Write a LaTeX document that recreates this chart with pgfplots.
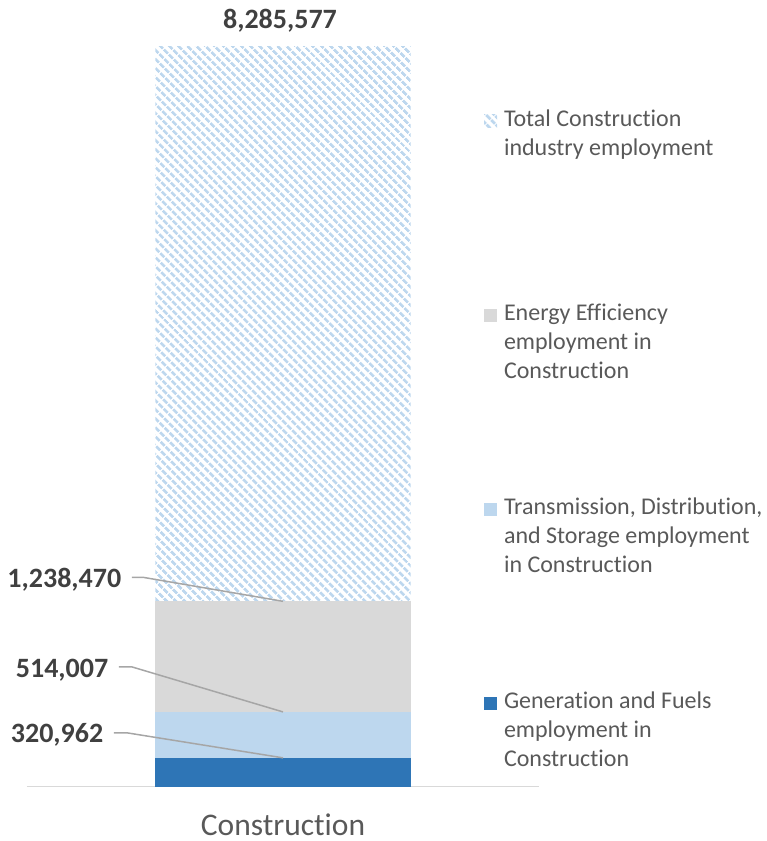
\documentclass[border=0pt]{standalone}
\usepackage{pgfplots}
\pgfplotsset{compat=1.18}
\usepackage{fontspec}
\setmainfont{Carlito}[Ligatures=NoCommon]
\usetikzlibrary{patterns.meta}
\definecolor{genblue}{HTML}{2E75B6}
\definecolor{tdsblue}{HTML}{BDD7EE}
\definecolor{eegray}{HTML}{D9D9D9}
\definecolor{hatchblue}{HTML}{BDD7EE}
\definecolor{labtext}{HTML}{404040}
\definecolor{legtext}{HTML}{595959}
\definecolor{leader}{HTML}{A6A6A6}
\newcommand{\LE}[3]{\vtop to 194pt{\hbox{\rule{0pt}{20pt}\kern7pt #1}\hbox{\kern7pt #2}\hbox{\kern7pt #3}\vfil}}
\pgfplotsset{leg/.style={legend image code/.code={\fill[##1] (0pt,-1pt) rectangle (13pt,12pt);}}}
\tikzset{lab/.style={font=\bfseries\fontsize{28}{34}\selectfont, text=labtext, inner sep=0pt}}
\begin{document}
\begin{tikzpicture}
\useasboundingbox (0,0) rectangle (767pt,841pt);
\begin{axis}[
  at={(27pt,54.5pt)}, anchor=south west,
  scale only axis, width=512pt, height=740pt,
  ybar stacked, bar width=255pt,
  xmin=-0.5, xmax=0.5, ymin=0, ymax=8285577,
  enlargelimits=false,
  hide y axis,
  axis x line*=bottom,
  x axis line style={draw=eegray, line width=1.5pt, -},
  xtick={0}, xticklabels={Construction},
  xtick style={draw=none},
  xticklabel style={font=\fontsize{31.5}{38}\selectfont, text=legtext, anchor=base, inner sep=0pt, yshift=-49pt},
  clip=false,
  reverse legend,
  legend cell align=left,
  legend style={at={(0.8926,0.9189)}, anchor=north west, draw=none, fill=none,
    inner sep=0pt, outer sep=0pt, row sep=0pt, column sep=0pt,
    nodes={inner sep=0pt, outer sep=0pt, anchor=base west, text depth=},
    font=\fontsize{24}{29}\selectfont, text=legtext},
]
\addplot[leg, fill=genblue, draw=none] coordinates {(0,320962)};
\addlegendentry{\LE{Generation and Fuels}{employment in}{Construction}}
\addplot[leg, fill=tdsblue, draw=none] coordinates {(0,514007)};
\addlegendentry{\LE{Transmission, Distribution,}{and Storage employment}{in Construction}}
\addplot[leg, fill=eegray, draw=none] coordinates {(0,1238470)};
\addlegendentry{\LE{Energy Efficiency}{employment in}{Construction}}
\addplot[leg, draw=none, pattern={Lines[angle=-45,distance=6.4pt,line width=3.2pt]}, pattern color=hatchblue] coordinates {(0,6212138)};
\addlegendentry{\LE{Total Construction}{industry employment}{}}
\coordinate (t3) at (axis cs:0,2073439);
\coordinate (t2) at (axis cs:0,834969);
\coordinate (t1) at (axis cs:0,320962);
\coordinate (t4) at (axis cs:0,8285577);
\end{axis}
\draw[leader, line width=1.5pt] (t3) -- ++(-140pt,24pt) -- ++(-11pt,0pt)
  node[lab, anchor=base east, xshift=-10pt, yshift=-10pt] {1,238,470};
\draw[leader, line width=1.5pt] (t2) -- ++(-151pt,45pt) -- ++(-13pt,0pt)
  node[lab, anchor=base east, xshift=-10pt, yshift=-11pt] {514,007};
\draw[leader, line width=1.5pt] (t1) -- ++(-156pt,25pt) -- ++(-13pt,0pt)
  node[lab, anchor=base east, xshift=-10pt, yshift=-10pt] {320,962};
\node[lab, anchor=base, xshift=-3pt, yshift=18pt] at (t4) {8,285,577};
\end{tikzpicture}
\end{document}
